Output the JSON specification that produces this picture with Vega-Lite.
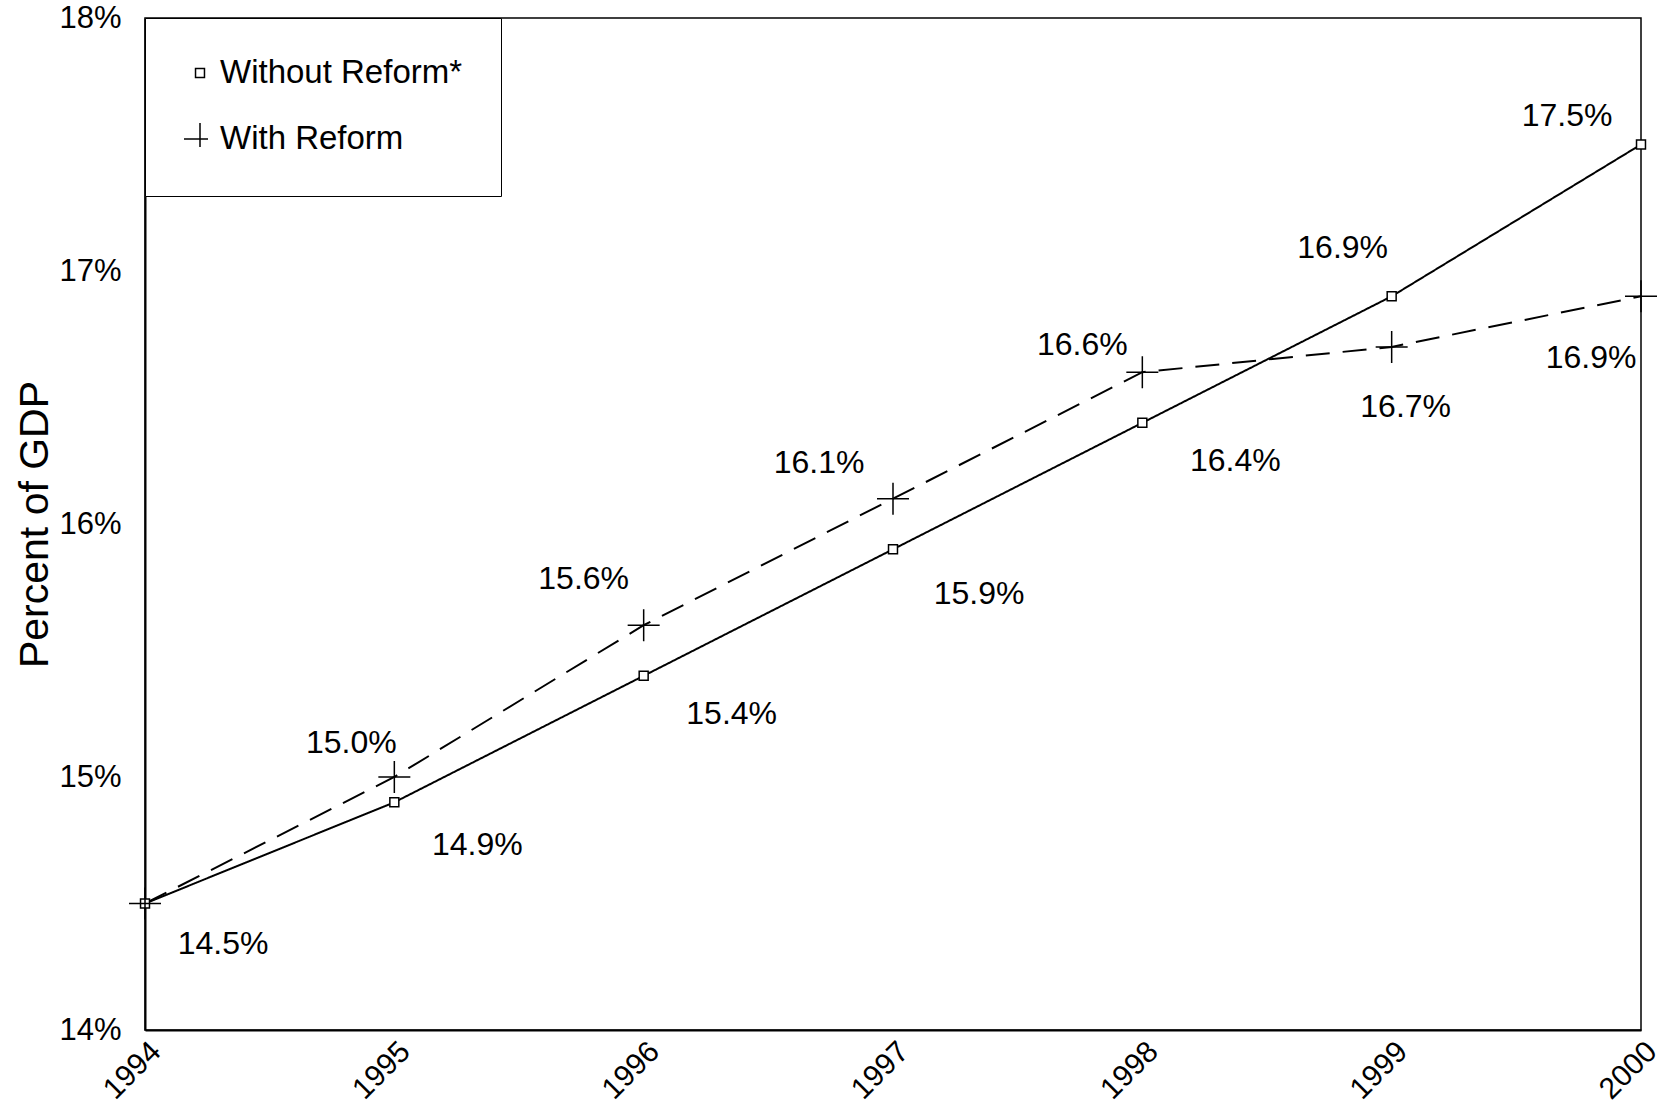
{
  "$schema": "https://vega.github.io/schema/vega-lite/v6.json",
  "width": 1496,
  "height": 1012,
  "autosize": "none",
  "padding": {"left": 145, "top": 18, "right": 16, "bottom": 79},
  "background": "white",
  "config": {
    "font": "Liberation Sans",
    "view": {"stroke": "black", "strokeWidth": 1.5},
    "axis": {"labelColor": "black", "titleColor": "black", "domainColor": "black", "domainWidth": 2, "ticks": false, "grid": false, "labelFont": "Liberation Sans", "titleFont": "Liberation Sans"},
    "text": {"font": "Liberation Sans", "fontSize": 32, "color": "black", "align": "center", "baseline": "middle"}
  },
  "data": {
    "values": [
      {"year": 1994, "series": "Without Reform*", "value": 0.145},
      {"year": 1995, "series": "Without Reform*", "value": 0.149},
      {"year": 1996, "series": "Without Reform*", "value": 0.154},
      {"year": 1997, "series": "Without Reform*", "value": 0.159},
      {"year": 1998, "series": "Without Reform*", "value": 0.164},
      {"year": 1999, "series": "Without Reform*", "value": 0.169},
      {"year": 2000, "series": "Without Reform*", "value": 0.175},
      {"year": 1994, "series": "With Reform", "value": 0.145},
      {"year": 1995, "series": "With Reform", "value": 0.150},
      {"year": 1996, "series": "With Reform", "value": 0.156},
      {"year": 1997, "series": "With Reform", "value": 0.161},
      {"year": 1998, "series": "With Reform", "value": 0.166},
      {"year": 1999, "series": "With Reform", "value": 0.167},
      {"year": 2000, "series": "With Reform", "value": 0.169}
    ]
  },
  "encoding": {
    "x": {"field": "year", "type": "quantitative", "scale": {"domain": [1994, 2000], "nice": false, "zero": false},
      "axis": {"values": [1994, 1995, 1996, 1997, 1998, 1999, 2000], "format": "d", "labelAngle": -45, "labelFontSize": 30, "labelPadding": 6, "title": null}},
    "y": {"field": "value", "type": "quantitative", "scale": {"domain": [0.14, 0.18], "nice": false, "zero": false},
      "axis": {"values": [0.14, 0.15, 0.16, 0.17, 0.18], "format": ".0%", "labelFontSize": 31, "labelPadding": 24, "title": "Percent of GDP", "titleFontSize": 41, "titleFontWeight": "normal", "titlePadding": 2}}
  },
  "layer": [
    {
      "mark": {"type": "line", "color": "black", "strokeWidth": 2},
      "encoding": {
        "detail": {"field": "series"},
        "strokeDash": {"field": "series", "type": "nominal", "scale": {"domain": ["Without Reform*", "With Reform"], "range": [[1, 0], [24, 13]]},
          "legend": {"orient": "top-left", "offset": 0, "title": null, "strokeColor": "black", "fillColor": "white", "padding": 38, "rowPadding": 30, "labelFontSize": 33, "labelColor": "black"}}
      }
    },
    {
      "mark": {"type": "point", "filled": false, "stroke": "black", "strokeWidth": 1.5, "opacity": 1, "size": 1024},
      "encoding": {
        "fill": {"value": "white"},
        "shape": {"field": "series", "type": "nominal", "scale": {"domain": ["Without Reform*", "With Reform"], "range": ["M-0.28,-0.28H0.28V0.28H-0.28Z", "M-1,0H1M0,-1V1"]},
          "legend": {"orient": "top-left", "offset": 0, "title": null, "strokeColor": "black", "fillColor": "white", "padding": 38, "rowPadding": 30, "labelFontSize": 33, "labelColor": "black", "symbolSize": 1024, "symbolStrokeColor": "black", "symbolFillColor": "white", "symbolStrokeWidth": 1.5, "labelOffset": 3, "labelLimit": 400}}
      }
    },
    {"transform": [{"filter": "datum.series == 'Without Reform*' && datum.year == 1994"}], "mark": {"type": "text", "dx": 78, "dy": 40}, "encoding": {"text": {"field": "value", "format": ".1%"}}},
    {"transform": [{"filter": "datum.series == 'Without Reform*' && datum.year == 1995"}], "mark": {"type": "text", "dx": 83, "dy": 43}, "encoding": {"text": {"field": "value", "format": ".1%"}}},
    {"transform": [{"filter": "datum.series == 'Without Reform*' && datum.year == 1996"}], "mark": {"type": "text", "dx": 88, "dy": 38}, "encoding": {"text": {"field": "value", "format": ".1%"}}},
    {"transform": [{"filter": "datum.series == 'Without Reform*' && datum.year == 1997"}], "mark": {"type": "text", "dx": 86, "dy": 45}, "encoding": {"text": {"field": "value", "format": ".1%"}}},
    {"transform": [{"filter": "datum.series == 'Without Reform*' && datum.year == 1998"}], "mark": {"type": "text", "dx": 93, "dy": 38}, "encoding": {"text": {"field": "value", "format": ".1%"}}},
    {"transform": [{"filter": "datum.series == 'Without Reform*' && datum.year == 1999"}], "mark": {"type": "text", "dx": -49, "dy": -48}, "encoding": {"text": {"field": "value", "format": ".1%"}}},
    {"transform": [{"filter": "datum.series == 'Without Reform*' && datum.year == 2000"}], "mark": {"type": "text", "dx": -74, "dy": -29}, "encoding": {"text": {"field": "value", "format": ".1%"}}},
    {"transform": [{"filter": "datum.series == 'With Reform' && datum.year == 1995"}], "mark": {"type": "text", "dx": -43, "dy": -34}, "encoding": {"text": {"field": "value", "format": ".1%"}}},
    {"transform": [{"filter": "datum.series == 'With Reform' && datum.year == 1996"}], "mark": {"type": "text", "dx": -60, "dy": -46}, "encoding": {"text": {"field": "value", "format": ".1%"}}},
    {"transform": [{"filter": "datum.series == 'With Reform' && datum.year == 1997"}], "mark": {"type": "text", "dx": -74, "dy": -36}, "encoding": {"text": {"field": "value", "format": ".1%"}}},
    {"transform": [{"filter": "datum.series == 'With Reform' && datum.year == 1998"}], "mark": {"type": "text", "dx": -60, "dy": -27}, "encoding": {"text": {"field": "value", "format": ".1%"}}},
    {"transform": [{"filter": "datum.series == 'With Reform' && datum.year == 1999"}], "mark": {"type": "text", "dx": 14, "dy": 60}, "encoding": {"text": {"field": "value", "format": ".1%"}}},
    {"transform": [{"filter": "datum.series == 'With Reform' && datum.year == 2000"}], "mark": {"type": "text", "dx": -50, "dy": 62}, "encoding": {"text": {"field": "value", "format": ".1%"}}}
  ]
}
